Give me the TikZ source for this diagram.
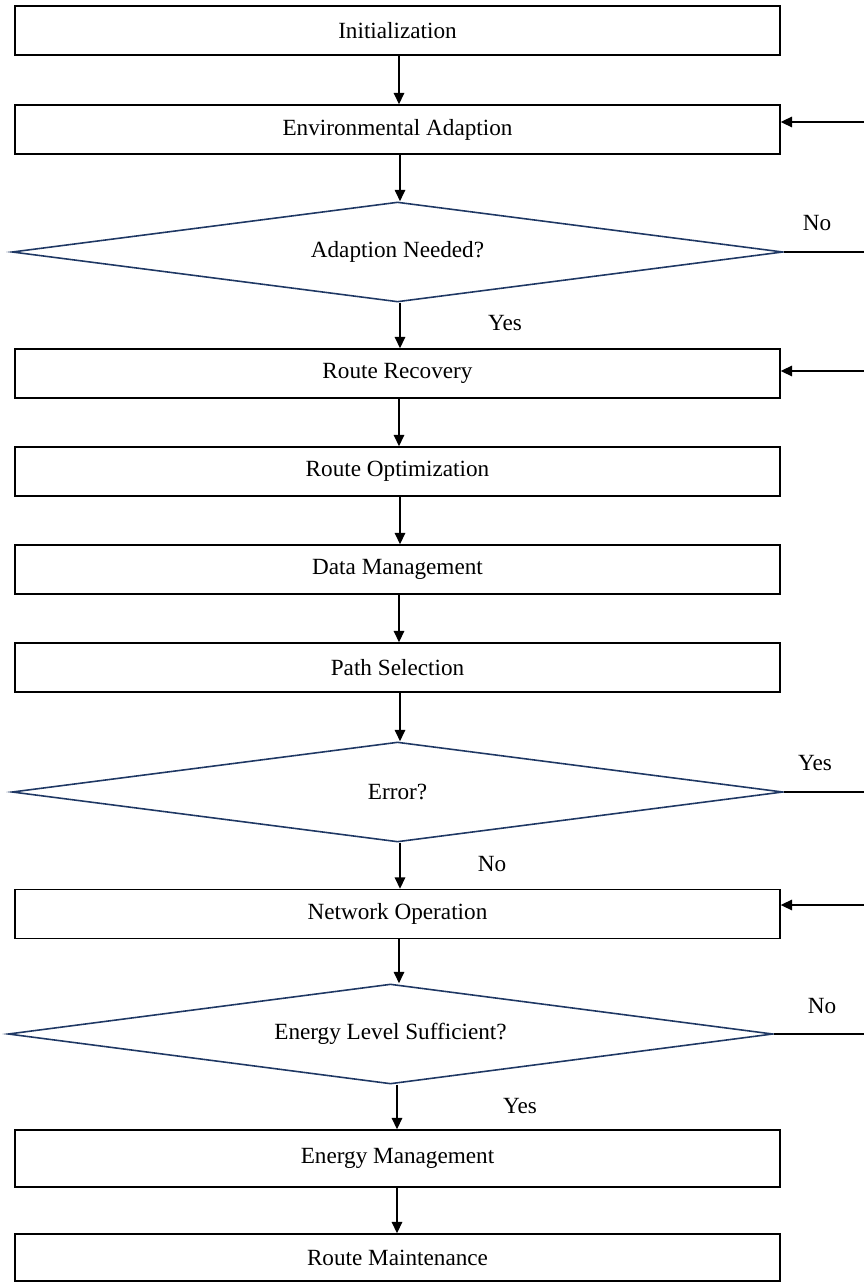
\documentclass[tikz,border=0pt]{standalone}
\usepackage{fontspec}
\setmainfont{Liberation Serif}
\usetikzlibrary{shapes.geometric,arrows.meta}

\definecolor{navyline}{HTML}{1F3864}

\tikzset{
  txt/.style={font=\fontsize{13.2}{15}\selectfont},
  stepbox/.style={txt, draw=black, line width=0.85pt, minimum width=15.3cm,
                  minimum height=0.98cm, inner sep=0pt},
  decide/.style={txt, draw=navyline, line width=0.9pt, diamond, aspect=7.71,
                 minimum width=15.42cm, minimum height=2cm, inner sep=0pt},
  arr/.style={-{Triangle[length=6.5pt,width=6pt]}, line width=0.8pt},
}

\begin{document}
\begin{tikzpicture}[x=0.02cm,y=-0.02cm]
  \useasboundingbox (0,0) rectangle (864,1283);

  % Initialization -- Environmental Adaption
  \node[stepbox] (init) at (397.5,30.5)  {Initialization};
  \node[stepbox] (envad) at (397.5,129.5) {Environmental Adaption};
  \draw[arr] (init.south -| 399,0) -- (envad.north -| 399,0);

  % Adaption Needed?
  \node[decide] (needed) at (397.5,252) {Adaption Needed?};
  \draw[arr] (envad.south -| 400,0) -- (needed.north -| 400,0);
  \coordinate (outA) at (864,252);
  \draw[line width=0.9pt] (needed.east) -- (outA);
  \node[txt] (noA) at (817,223) {No};
  \node[txt] (yesA) at (505,323) {Yes};
  \coordinate (inA) at (864,122);
  \draw[arr] (inA) -- (inA -| envad.east);

  % Route Recovery -- Path Selection
  \node[stepbox] (recov) at (397.5,373.5) {Route Recovery};
  \node[stepbox] (optim) at (397.5,471.5) {Route Optimization};
  \node[stepbox] (datam) at (397.5,569.5) {Data Management};
  \node[stepbox] (pathsel) at (397.5,667.5) {Path Selection};
  \draw[arr] (needed.south -| 400,0) -- (recov.north -| 400,0);
  \draw[arr] (recov.south -| 399,0) -- (optim.north -| 399,0);
  \draw[arr] (optim.south -| 400,0) -- (datam.north -| 400,0);
  \draw[arr] (datam.south -| 399,0) -- (pathsel.north -| 399,0);
  \coordinate (inB) at (864,371);
  \draw[arr] (inB) -- (inB -| recov.east);

  % Error?
  \node[decide] (err) at (397.5,792) {Error?};
  \draw[arr] (pathsel.south -| 400,0) -- (err.north -| 400,0);
  \coordinate (outB) at (864,792);
  \draw[line width=0.9pt] (err.east) -- (outB);
  \node[txt] (yesB) at (815,763) {Yes};
  \node[txt] (noB) at (492,864) {No};

  % Network Operation
  \node[stepbox] (netop) at (397.5,914) {Network Operation};
  \draw[arr] (err.south -| 400,0) -- (netop.north -| 400,0);
  \coordinate (inC) at (864,905);
  \draw[arr] (inC) -- (inC -| netop.east);

  % Energy Level Sufficient?
  \node[decide, minimum width=15.3cm] (energy) at (390.5,1034) {Energy Level Sufficient?};
  \draw[arr] (netop.south -| 399,0) -- (energy.north -| 399,0);
  \coordinate (outC) at (864,1034);
  \draw[line width=0.9pt] (energy.east) -- (outC);
  \node[txt] (noC) at (822,1006) {No};
  \node[txt] (yesC) at (520,1106) {Yes};

  % Energy Management -- Route Maintenance
  \node[stepbox, minimum height=1.14cm] (emgmt) at (397.5,1158.5) {Energy Management};
  \node[stepbox, minimum height=0.94cm] (maint) at (397.5,1257.5) {Route Maintenance};
  \draw[arr] (energy.south -| 397,0) -- (emgmt.north -| 397,0);
  \draw[arr] (emgmt.south -| 397,0) -- (maint.north -| 397,0);
\end{tikzpicture}
\end{document}
